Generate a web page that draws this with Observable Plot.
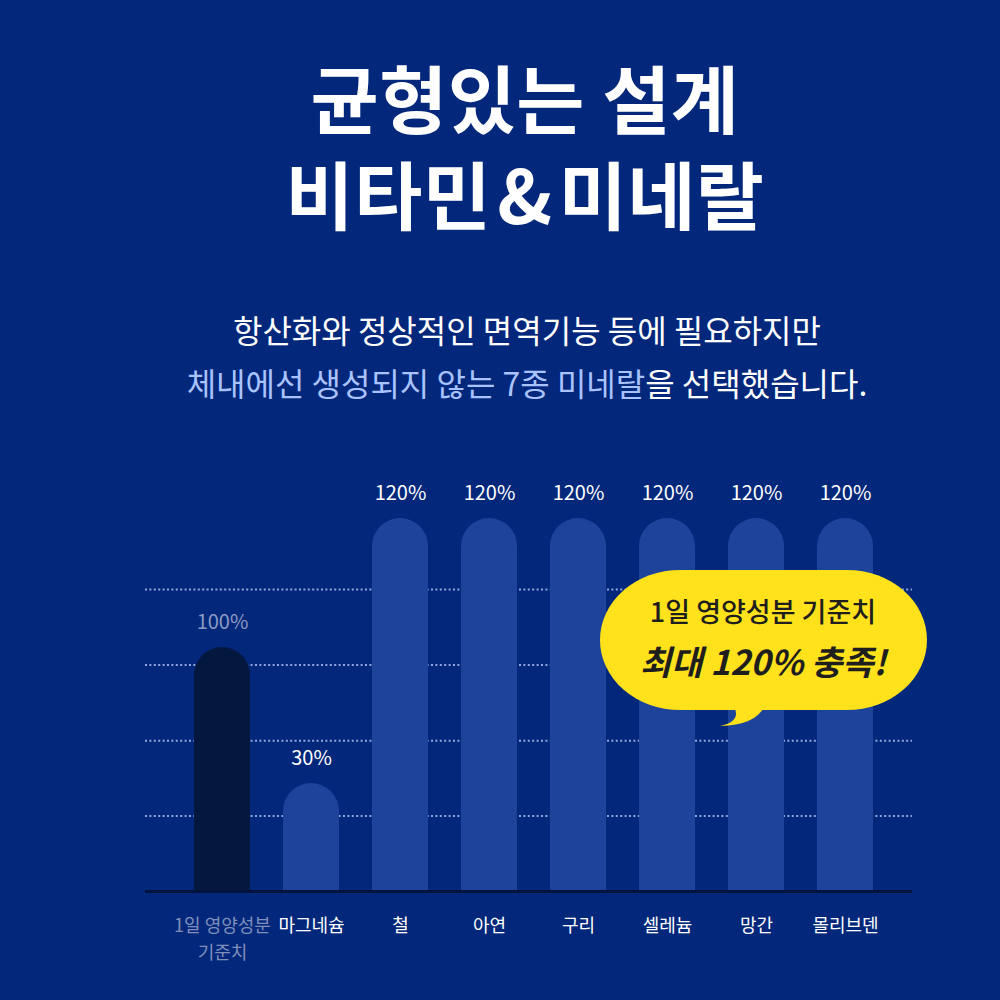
<!DOCTYPE html>
<html>
<head>
<meta charset="utf-8">
<script src="https://cdn.jsdelivr.net/npm/d3@7"></script>
<script src="https://cdn.jsdelivr.net/npm/@observablehq/plot@0.6"></script>
<style>
  html, body { margin: 0; padding: 0; background: #03277a; }
  #page { position: relative; width: 1000px; height: 1000px; background: #03277a; overflow: hidden;
          font-family: "Noto Sans CJK KR", "Noto Sans", sans-serif; }
  .title { position: absolute; left: 25px; width: 1000px; height: 84px; text-align: center; color: #fff;
           font-weight: 700; font-size: 74px; line-height: 84px; letter-spacing: 0.5px; margin: 0; }
  #t1 { top: 54px; }
  #t2 { top: 150px; }
  .title .amp { margin: 0 6px; }
  #sub { position: absolute; left: 27px; top: 303px; width: 1000px; text-align: center; color: #fff;
         font-size: 32px; line-height: 53px; letter-spacing: 0px; margin: 0; }
  #sub .hl { color: #a9c3ff; }
  #chart { position: absolute; left: 0; top: 460px; }
  #bubble { position: absolute; left: 595px; top: 565px; }
</style>
</head>
<body>
<div id="page">
  <div class="title" id="t1">균형있는 설계</div>
  <div class="title" id="t2">비타민<span class="amp">&amp;</span>미네랄</div>
  <p id="sub">항산화와 정상적인 면역기능 등에 필요하지만<br><span class="hl">체내에선 생성되지 않는 7종 미네랄</span>을 선택했습니다.</p>
  <div id="chart"></div>
  <svg id="bubble" width="345" height="175" xmlns="http://www.w3.org/2000/svg">
    <path d="M 138 140 Q 148 156 125 161 Q 162 160 170 140 Z" fill="#ffe11c"/>
    <rect x="5" y="5" width="327" height="140" rx="80" ry="70" fill="#ffe11c"/>
    <text x="168" y="45" text-anchor="middle" dominant-baseline="central" fill="#1e1e1e"
          font-family="Noto Sans CJK KR" font-weight="500" font-size="27">1일 영양성분 기준치</text>
    <text x="168" y="95" text-anchor="middle" dominant-baseline="central" fill="#1e1e1e"
          font-family="Noto Sans CJK KR" font-weight="700" font-style="italic" font-size="34">최대 120% 충족!</text>
  </svg>
</div>
<script>
// ---- data ----
const categories = ["1일 영양성분\n기준치", "마그네슘", "철", "아연", "구리", "셀레늄", "망간", "몰리브덴"];
const values = [100, 30, 120, 120, 120, 120, 120, 120];
const isReference = [true, false, false, false, false, false, false, false];
const gridTicks = [21, 52, 91, 109];

const data = categories.map((c, i) => ({ cat: c, value: values[i], ref: isReference[i] }));

const chart = Plot.plot({
  width: 1000,
  height: 520,
  marginLeft: 145,
  marginRight: 88,
  marginTop: 10,
  marginBottom: 89,
  style: { background: "transparent", fontFamily: "'Noto Sans CJK KR', 'Noto Sans', sans-serif", overflow: "visible" },
  x: { domain: categories, type: "band", range: [194, 873], paddingInner: 0.371, paddingOuter: 0, axis: null },
  y: { type: "linear", domain: [0, 30, 100, 120], range: [431, 323, 187, 58], axis: null },
  marks: [
    Plot.ruleY(gridTicks, { stroke: "#8fa7dc", strokeWidth: 2, strokeDasharray: "2,2.4" }),
    Plot.barY(data, {
      x: "cat", y: "value",
      fill: d => d.ref ? "#03173f" : "#1d439b",
      rx: 28, insetBottom: -40, clip: "frame"
    }),
    Plot.ruleY([0], { stroke: "#02143d", strokeWidth: 3 }),
    Plot.text(data, {
      x: "cat", y: "value", text: d => `${d.value}%`,
      dy: -25, fontSize: 20, lineAnchor: "middle",
      fill: d => d.ref ? "#8c9bc4" : "#ffffff"
    }),
    Plot.text(data, {
      x: "cat", y: 0, text: "cat",
      dy: 21, lineAnchor: "top", lineHeight: 1.5, fontSize: 18,
      fill: d => d.ref ? "#7f8fbb" : "#ffffff"
    })
  ]
});
document.getElementById("chart").appendChild(chart);
</script>
</body>
</html>
